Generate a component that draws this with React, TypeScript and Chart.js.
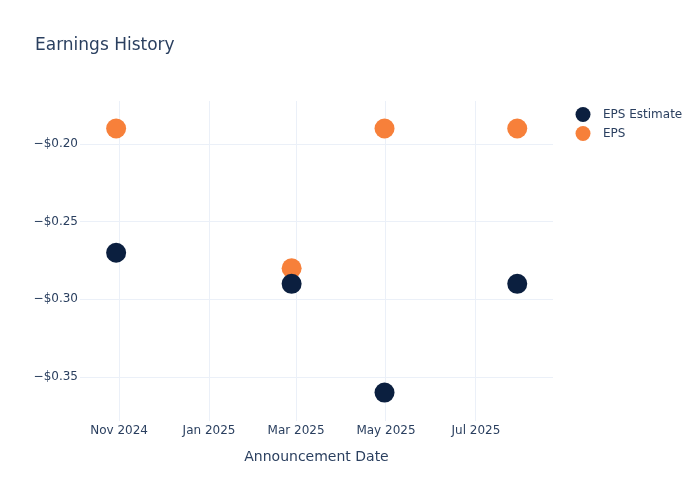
import React, { useEffect, useRef } from "react";
import { Chart, registerables } from "chart.js";

Chart.register(...registerables);

const announcementDates = ["2024-10-30", "2025-02-26", "2025-04-30", "2025-07-29"];
const epsEstimate = [-0.27, -0.29, -0.36, -0.29];
const epsActual = [-0.19, -0.28, -0.19, -0.19];
const xTickDates = ["2024-11-01", "2025-01-01", "2025-03-01", "2025-05-01", "2025-07-01"];
const yTickValues = [-0.35, -0.3, -0.25, -0.2];
const xRange = ["2024-10-05T12:00:00Z", "2025-08-22T06:00:00Z"];
const yRange = [-0.3783, -0.1723];
const seriesLabels = ["EPS Estimate", "EPS"];
const seriesColors = ["#0b1f3f", "#f7803a"];
const chartTitle = "Earnings History";
const xAxisTitle = "Announcement Date";

const MONTHS = ["Jan", "Feb", "Mar", "Apr", "May", "Jun", "Jul", "Aug", "Sep", "Oct", "Nov", "Dec"];
const toTs = (s: string) => new Date(s.length === 10 ? s + "T00:00:00Z" : s).getTime();
const FONT = "'DejaVu Sans', Verdana, sans-serif";
const TEXT = "#2a3f5f";
const GRID = "#ebf0f8";

const overlayPlugin = {
  id: "overlay",
  afterDraw(chart: any) {
    const ctx = chart.ctx;
    ctx.save();
    ctx.fillStyle = TEXT;
    ctx.font = `17px ${FONT}`;
    ctx.textBaseline = "middle";
    ctx.textAlign = "left";
    ctx.fillText(chartTitle, 35, 45.5);
    // legend
    ctx.font = `12px ${FONT}`;
    chart.data.datasets.forEach((ds: any, i: number) => {
      const y = 114.5 + i * 19;
      ctx.beginPath();
      ctx.arc(583, y, 7.5, 0, Math.PI * 2);
      ctx.fillStyle = ds.backgroundColor;
      ctx.fill();
      ctx.fillStyle = TEXT;
      ctx.fillText(ds.label, 603, y + 0.5);
    });
    ctx.restore();
  },
};

export default function App() {
  const ref = useRef<HTMLCanvasElement>(null);
  useEffect(() => {
    if (!ref.current) return;
    const xs = announcementDates.map(toTs);
    const chart = new Chart(ref.current, {
      type: "scatter",
      data: {
        datasets: [
          {
            label: seriesLabels[0],
            data: xs.map((x, i) => ({ x, y: epsEstimate[i] })),
            backgroundColor: seriesColors[0],
            borderColor: seriesColors[0],
            pointRadius: 10,
            pointBorderWidth: 0,
          },
          {
            label: seriesLabels[1],
            data: xs.map((x, i) => ({ x, y: epsActual[i] })),
            backgroundColor: seriesColors[1],
            borderColor: seriesColors[1],
            pointRadius: 10,
            pointBorderWidth: 0,
          },
        ],
      },
      options: {
        animation: false,
        responsive: false,
        layout: { padding: { top: 101, right: 147, left: 0, bottom: 0 } },
        plugins: { legend: { display: false }, tooltip: { enabled: false }, title: { display: false } },
        scales: {
          x: {
            type: "linear",
            min: toTs(xRange[0]),
            max: toTs(xRange[1]),
            afterBuildTicks: (s: any) => {
              s.ticks = xTickDates.map((d) => ({ value: toTs(d) }));
            },
            afterFit: (s: any) => {
              s.height = 79;
            },
            ticks: {
              color: TEXT,
              font: { family: FONT, size: 12 },
              padding: 3,
              maxRotation: 0,
              autoSkip: false,
              callback: (v: any) => {
                const d = new Date(Number(v));
                return `${MONTHS[d.getUTCMonth()]} ${d.getUTCFullYear()}`;
              },
            },
            grid: { color: GRID, drawTicks: false },
            border: { display: false },
            title: {
              display: true,
              text: xAxisTitle,
              color: TEXT,
              font: { family: FONT, size: 14 },
              padding: { top: 0, bottom: 34.6 },
            },
          },
          y: {
            type: "linear",
            min: yRange[0],
            max: yRange[1],
            afterBuildTicks: (s: any) => {
              s.ticks = yTickValues.map((v) => ({ value: v }));
            },
            afterFit: (s: any) => {
              s.width = 80;
            },
            ticks: {
              color: TEXT,
              font: { family: FONT, size: 12 },
              padding: 2,
              callback: (v: any) => {
                const n = Number(v);
                return (n < 0 ? "\u2212" : "") + "$" + Math.abs(n).toFixed(2);
              },
            },
            grid: { color: GRID, drawTicks: false },
            border: { display: false },
          },
        },
      },
      plugins: [overlayPlugin],
    } as any);
    return () => chart.destroy();
  }, []);
  return (
    <div style={{ position: "absolute", left: 0, top: 0, width: 700, height: 500, background: "#fff" }}>
      <canvas ref={ref} width={700} height={500} style={{ width: 700, height: 500 }} />
    </div>
  );
}
